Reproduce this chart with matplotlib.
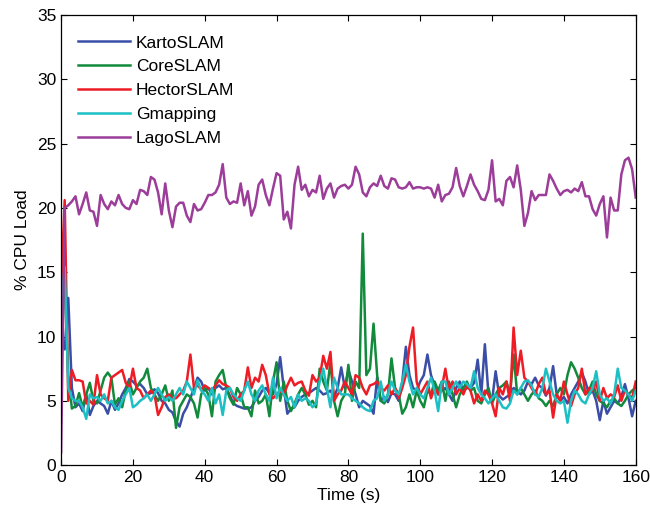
import numpy as np
import matplotlib
matplotlib.use("Agg")
import matplotlib.pyplot as plt

plt.rcParams['font.family'] = ['Liberation Sans', 'DejaVu Sans']

# time axis in seconds, one sample per second
time_s = np.arange(0, 161)

karto = [10, 9, 13, 6, 4.5, 4.8, 4.2, 5.5, 3.9, 4.6,
         5.0, 4.8, 4.6, 4.0, 5.0, 4.3, 4.8, 5.5, 6.0, 6.7,
         6.5, 6.2, 6.3, 6.0, 5.5, 5.6, 5.9, 5.6, 5.0, 4.8,
         4.3, 4.1, 3.4, 3.0, 4.0, 4.5, 5.2, 6.0, 6.8, 6.5,
         5.8, 6.0, 5.5, 6.0, 6.2, 5.9, 6.0, 5.4, 4.8, 4.6,
         4.5, 4.4, 4.4, 4.5, 5.0, 5.3, 5.8, 6.0, 5.6, 5.5,
         6.3, 8.4, 6.0, 4.0, 4.4, 4.5, 5.0, 5.3, 5.5, 5.6,
         5.8, 6.0, 5.8, 5.5, 5.6, 5.8, 5.3, 6.0, 7.6, 6.0,
         7.4, 6.5, 5.5, 4.5, 5.0, 4.8, 4.6, 4.0, 6.8, 5.0,
         5.3, 4.9, 5.6, 5.5, 5.0, 6.5, 9.2, 7.0, 6.0, 5.8,
         6.5, 7.0, 8.6, 7.0, 6.2, 5.5, 5.8, 6.0, 5.5, 5.0,
         6.0, 6.5, 5.8, 6.0, 6.0, 6.4, 8.2, 5.5, 9.4, 5.5,
         5.0, 7.3, 5.4, 5.1, 5.3, 5.5, 6.0, 5.8, 5.5, 5.8,
         6.5, 6.3, 6.8, 6.2, 6.0, 5.4, 6.0, 7.7, 5.5, 5.0,
         5.3, 4.8, 5.5, 6.0, 6.5, 7.2, 6.5, 5.5, 5.8, 5.0,
         3.5, 5.0, 4.0, 4.5, 5.0, 4.8, 5.3, 6.3, 5.2, 3.8,
         5.0]

core = [15, 14, 7, 4.4, 4.6, 5.6, 4.5, 5.5, 6.4, 5.0,
        4.8, 5.8, 6.8, 7.2, 6.8, 4.7, 5.2, 4.5, 5.8, 6.5,
        5.5, 6.0, 6.5, 6.8, 7.5, 6.0, 5.5, 5.0, 5.5, 6.2,
        5.0, 5.8, 2.9, 4.5, 5.0, 5.5, 5.3, 4.8, 3.7, 5.5,
        6.0, 5.5, 3.8, 6.5, 7.0, 7.4, 6.0, 5.2, 4.7, 6.0,
        5.5, 4.5, 4.5, 3.8, 5.8, 4.8, 5.0, 5.5, 3.8, 6.5,
        8.0, 5.0, 6.5, 5.0, 4.2, 4.8, 5.5, 6.0, 5.5, 4.7,
        5.0, 4.5, 7.5, 6.5, 5.8, 8.0, 5.0, 3.8, 5.0, 5.5,
        7.8, 5.0, 6.5, 6.0, 18.0, 7.0, 7.5, 11.0, 7.0, 5.0,
        4.8, 5.5, 8.3, 6.0, 5.5, 4.0, 4.5, 5.5, 4.5, 5.8,
        5.0, 4.5, 5.8, 5.5, 6.5, 5.8, 6.5, 5.0, 6.5, 5.5,
        4.5, 5.5, 6.0, 6.5, 5.8, 6.0, 5.0, 4.8, 5.5, 6.0,
        4.8, 5.5, 6.0, 6.2, 6.5, 5.5, 8.6, 5.5, 6.0, 5.5,
        5.0, 5.5, 5.8, 5.2, 5.0, 4.6, 5.0, 4.6, 5.5, 6.0,
        5.5, 7.0, 8.0, 7.5, 6.8, 6.0, 5.5, 5.8, 6.5, 5.5,
        5.0, 4.8, 4.5, 5.0, 5.2, 4.8, 4.6, 5.0, 5.5, 5.8,
        6.0]

hector = [14, 20.6, 5.0, 7.4, 6.6, 6.6, 6.5, 4.8, 5.0, 4.7,
          7.0, 5.5, 5.2, 5.0, 6.8, 7.0, 7.2, 7.4, 6.4, 6.0,
          7.5, 6.0, 5.8, 5.2, 5.5, 5.8, 5.5, 3.9, 4.5, 5.3,
          5.5, 5.2, 5.2, 5.5, 5.8, 6.5, 8.6, 6.0, 6.2, 5.9,
          6.2, 6.0, 5.8, 6.2, 6.6, 6.3, 6.2, 6.0, 5.3, 5.0,
          5.5, 5.8, 7.6, 6.0, 6.8, 6.5, 7.8, 7.0, 5.5, 5.2,
          5.5, 5.8, 5.5, 6.2, 6.8, 6.2, 6.4, 6.5, 5.8, 5.4,
          7.0, 6.5, 6.8, 8.5, 7.5, 8.8, 5.0, 5.5, 5.8, 6.5,
          6.0, 5.5, 7.0, 6.8, 6.0, 5.5, 6.2, 6.3, 6.5, 6.0,
          5.8, 6.2, 5.5, 6.0, 5.2, 6.0, 7.0, 9.2, 10.7, 6.5,
          5.5, 6.0, 6.5, 5.2, 6.0, 5.5, 6.0, 7.5, 5.8, 6.5,
          5.5, 6.0, 5.5, 6.2, 5.8, 4.8, 5.5, 5.0, 5.8, 5.5,
          4.8, 3.8, 6.0, 5.5, 6.5, 5.0, 10.7, 7.0, 8.9, 6.8,
          6.5, 6.0, 5.5, 6.3, 6.8, 5.5, 5.8, 3.7, 5.5, 5.0,
          6.5, 5.5, 4.6, 5.5, 6.0, 7.5, 5.5, 6.0, 5.8, 6.5,
          5.0, 6.0, 5.2, 5.5, 5.3, 6.2, 5.0, 5.8, 5.5, 5.2,
          6.5]

gmapping = [12, 15.4, 6.0, 5.2, 5.0, 5.0, 4.5, 3.6, 5.5, 5.2,
            5.3, 5.0, 5.5, 4.8, 5.0, 4.5, 4.3, 5.0, 5.5, 6.0,
            4.5, 4.7, 5.0, 5.2, 5.5, 5.0, 5.5, 6.0, 5.5, 5.0,
            5.3, 5.0, 5.5, 6.0, 5.5, 6.5, 6.0, 5.5, 6.6, 5.8,
            5.5, 5.0, 6.0, 4.8, 5.5, 3.9, 5.8, 6.0, 5.5, 5.2,
            5.0, 5.8, 6.5, 5.5, 5.0, 5.8, 6.2, 5.5, 5.0, 6.8,
            5.2, 6.0, 5.5, 5.0, 5.3, 4.5, 5.5, 5.0, 5.2, 5.0,
            4.5, 4.8, 6.5, 7.5, 6.0, 4.5, 6.8, 6.0, 5.5, 5.5,
            5.5, 5.2, 5.0, 4.8, 4.5, 4.3, 4.2, 5.0, 5.2, 6.5,
            5.0, 5.5, 6.5, 5.8, 5.5, 6.5, 7.8, 6.5, 5.5, 6.0,
            5.5, 5.2, 6.0, 6.8, 5.8, 4.2, 6.5, 6.5, 5.5, 6.0,
            6.5, 6.0, 6.5, 6.3, 6.0, 7.3, 6.0, 5.5, 5.2, 4.8,
            5.2, 5.5, 5.0, 4.5, 4.4, 4.8, 5.8, 5.5, 6.0, 6.5,
            6.6, 6.2, 5.5, 5.3, 6.0, 7.5, 6.5, 5.5, 5.0, 4.8,
            5.0, 3.3, 5.0, 5.8, 5.5, 5.0, 4.8, 5.5, 6.0, 7.3,
            5.5, 5.0, 5.2, 4.8, 5.5, 7.5, 6.0, 5.8, 5.5, 5.0,
            5.8]

lago = [1.0, 20.0, 20.2, 20.5, 20.9, 19.5, 20.3, 21.2, 19.8, 19.7,
        18.6, 21.0, 20.3, 19.9, 20.5, 20.2, 21.0, 20.3, 20.0, 19.9,
        20.6, 20.3, 21.4, 21.3, 21.0, 22.4, 22.2, 21.2, 19.5, 21.9,
        19.8, 18.5, 20.1, 20.4, 20.4, 19.4, 18.9, 20.3, 19.8, 19.9,
        20.4, 21.0, 21.0, 21.2, 21.8, 23.4, 20.8, 20.3, 20.5, 20.4,
        21.9, 20.2, 21.3, 19.4, 20.1, 21.8, 22.2, 21.0, 20.2, 21.5,
        22.7, 22.5, 19.1, 19.7, 18.4, 21.8, 23.2, 21.4, 21.8, 20.9,
        21.4, 21.2, 22.5, 20.7, 21.5, 21.9, 20.8, 21.5, 21.7, 21.8,
        21.5, 21.8, 23.2, 22.6, 21.2, 20.9, 21.6, 21.9, 21.7, 22.5,
        21.7, 21.5, 22.3, 22.2, 21.6, 21.5, 21.6, 22.0, 21.5, 21.6,
        21.6, 21.5, 21.6, 21.5, 20.8, 21.8, 20.5, 21.0, 21.1, 21.6,
        23.1, 21.7, 20.9, 21.7, 22.6, 21.8, 21.3, 20.7, 20.6, 21.4,
        23.7, 20.5, 20.7, 20.2, 22.1, 22.4, 21.6, 23.3, 21.4, 18.6,
        19.6, 21.3, 20.6, 21.0, 21.0, 21.0, 22.6, 22.1, 21.5, 21.0,
        21.3, 21.4, 21.2, 21.5, 21.3, 22.0, 20.9, 20.9, 19.9, 19.4,
        20.3, 20.9, 17.7, 20.8, 19.8, 19.8, 22.6, 23.7, 23.9, 23.0,
        20.8]

series_names = ['KartoSLAM', 'CoreSLAM', 'HectorSLAM', 'Gmapping', 'LagoSLAM']
series_values = [karto, core, hector, gmapping, lago]
series_colors = ['#3a4ea6', '#128a3c', '#ee1c25', '#1cc0c4', '#9c3d9a']

fig = plt.figure(figsize=(6.5, 5.14), dpi=100)
ax = fig.add_axes([0.094, 0.095, 0.884, 0.876])

for name, vals, col in zip(series_names, series_values, series_colors):
    ax.plot(time_s, vals, color=col, lw=1.8, label=name)

ax.set_xlim(0, 160)
ax.set_ylim(0, 35)
ax.set_xticks(range(0, 161, 20))
ax.set_yticks(range(0, 36, 5))
ax.tick_params(direction='in', top=True, right=True, length=4, labelsize=12.5)
ax.set_xlabel('Time (s)', fontsize=12.5, labelpad=2)
ax.set_ylabel('% CPU Load', fontsize=12.5, labelpad=5)
for sp in ax.spines.values():
    sp.set_linewidth(0.9)

ax.legend(loc='upper left', frameon=False, fontsize=12.5, handlelength=3.0,
          labelspacing=0.5, handletextpad=0.3, borderaxespad=0.0,
          borderpad=0.4, bbox_to_anchor=(0.018, 0.97))

fig.savefig('out.png', dpi=100)
